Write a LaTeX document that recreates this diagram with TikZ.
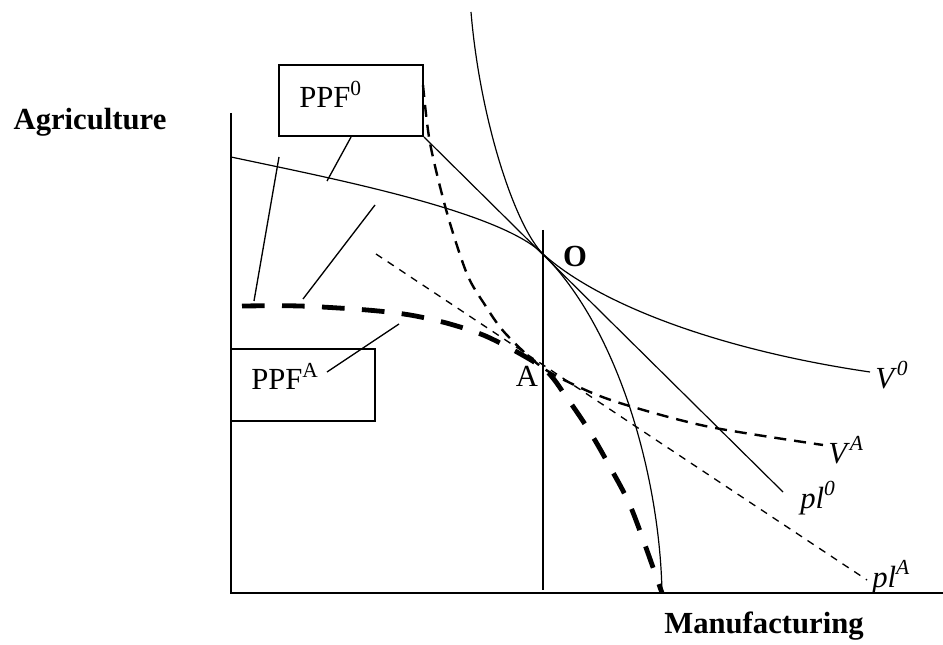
\documentclass[tikz,border=0pt]{standalone}
\usepackage{fontspec}
\setmainfont{Liberation Serif}
\usetikzlibrary{positioning}

\begin{document}
\begin{tikzpicture}[
  x=0.75pt, y=-0.75pt,
  every node/.style={inner sep=0pt, font=\fontsize{23}{27}\selectfont},
  axis/.style={line width=1.5pt},
  box/.style={draw=black, line width=1.4pt, rectangle,
    minimum width=108pt, minimum height=53.5pt},
  thinline/.style={line width=0.9pt},
  leader/.style={line width=1pt},
  ppfA/.style={line width=3.6pt, dash pattern=on 17pt off 13pt},
  vA/.style={line width=1.8pt, dash pattern=on 9pt off 6pt},
  plA/.style={line width=1pt, dash pattern=on 5.5pt off 5pt},
]
\useasboundingbox (0,0) rectangle (943,645);

% ── Axes and their titles ──────────────────────────────────────────
\coordinate (orig) at (231,593);
\draw[axis] (231,113) -- (orig) -- (943,593);
\node[anchor=base, font=\fontsize{23}{27}\selectfont\bfseries] (agri) at (90,130) {Agriculture};
\node[anchor=base, font=\fontsize{23}{27}\selectfont\bfseries] (manu) at (764,633) {Manufacturing};

% ── Key points ─────────────────────────────────────────────────────
\coordinate (O) at (543,254);
\coordinate (A) at (543,368);
\draw[line width=0.8pt] (543,230) -- (543,590);

% ── Initial equilibrium: PPF0, V0, pl0 ──────────────────────────────
\draw[thinline] (231,157) .. controls (330,178) and (500,211) .. (O)
  .. controls (620,331) and (660,480) .. (662,593);
\draw[thinline] (471,12) .. controls (480,120) and (515,226) .. (O)
  .. controls (600,305) and (720,350) .. (870,372);
\draw[thinline] (424,137) -- (783,492);

% ── Autarky: PPFA, VA, plA ─────────────────────────────────────────
\draw[ppfA] plot[smooth] coordinates {(242,306) (300,306) (367,310) (410,315)
  (450,324) (490,338) (543,368) (567,398) (590,432) (610,467) (632,510) (662,593)};
\draw[vA] plot[smooth] coordinates {(423,85) (430,143) (447,213) (467,274)
  (485,305) (505,333) (543,368) (590,392) (633,407) (710,427) (823,445)};
\draw[plA] (376,254) -- (867,580);

% ── Labels ─────────────────────────────────────────────────────────
\node[box] (box0) at (351,100.5) {};
\node[anchor=base west] (ppf0) at (299,108) {PPF\textsuperscript{0}};
\node[box] (boxA) at (303,385) {};
\node[anchor=base west] (ppfa) at (251,390) {PPF\textsuperscript{A}};

\draw[leader] (box0.south) -- (327,181);
\draw[leader] (279,157) -- (254,301);
\draw[leader] (375,205) -- (303,299);
\draw[leader] (327,372) -- (399,324);

\node[anchor=base, font=\fontsize{23}{27}\selectfont\bfseries] (lblO) at (575,267) {O};
\node[anchor=base] (lblA) at (527,387) {A};
\node[anchor=base west] (lblV0) at (875,388) {\textit{V}\textsuperscript{\textit{0}}};
\node[anchor=base west] (lblVA) at (828,463) {\textit{V}\textsuperscript{\textit{A}}};
\node[anchor=base west] (lblpl0) at (800,508) {\textit{pl}\textsuperscript{\textit{0}}};
\node[anchor=base west] (lblplA) at (872,587) {\textit{pl}\textsuperscript{\textit{A}}};

\end{tikzpicture}
\end{document}
